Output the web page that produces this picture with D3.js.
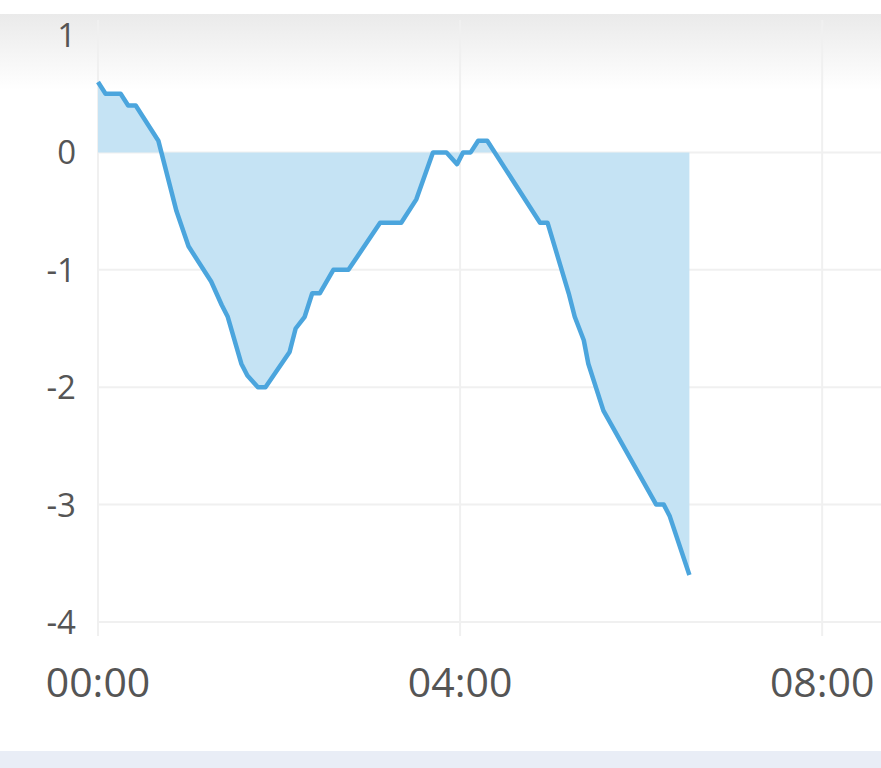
<!DOCTYPE html>
<html><head><meta charset="utf-8">
<script src="https://cdn.jsdelivr.net/npm/d3@7"></script>
<style>html,body{margin:0;padding:0;background:#fff;}svg{display:block;}</style>
</head><body>
<script>
// time in minutes after 00:00
const minutes = [0,5,15,20,25,30,35,40,44,48,52,60,75,82,86,95,99,106,111,127,131,137,142,147,156,166,187,201,211,222,231,238,242,247,252,258,293,298,305,312,316,322,325,335,370,375,379,392];
const values  = [0.6,0.5,0.5,0.4,0.4,0.3,0.2,0.1,-0.1,-0.3,-0.5,-0.8,-1.1,-1.3,-1.4,-1.8,-1.9,-2.0,-2.0,-1.7,-1.5,-1.4,-1.2,-1.2,-1.0,-1.0,-0.6,-0.6,-0.4,0.0,0.0,-0.1,0.0,0.0,0.1,0.1,-0.6,-0.6,-0.9,-1.2,-1.4,-1.6,-1.8,-2.2,-3.0,-3.0,-3.1,-3.6];
const yTicks = [1,0,-1,-2,-3,-4];
const xTicks = [0,240,480];
const xTickLabels = ["00:00","04:00","08:00"];

const W = 881, H = 768;
const svg = d3.select("body").append("svg").attr("width", W).attr("height", H);
const defs = svg.append("defs");
const g = defs.append("linearGradient").attr("id","topfade").attr("x1",0).attr("y1",0).attr("x2",0).attr("y2",1);
g.append("stop").attr("offset","0%").attr("stop-color","#eaeaea");
g.append("stop").attr("offset","100%").attr("stop-color","#ffffff");
svg.append("rect").attr("x",0).attr("y",14).attr("width",W).attr("height",76).attr("fill","url(#topfade)");
svg.append("rect").attr("x",0).attr("y",751).attr("width",W).attr("height",17).attr("fill","#e9edf6");

const x = d3.scaleLinear().domain([0, 519]).range([98, 881]);
const y = d3.scaleLinear().domain([-4, 1]).range([622, 35]);

const data = minutes.map((m,i)=>({m, v: values[i]}));

// grid
svg.append("g").selectAll("line").data(yTicks).join("line")
  .attr("x1", 98).attr("x2", W).attr("y1", d=>y(d)).attr("y2", d=>y(d))
  .attr("stroke","#f0f0f0").attr("stroke-width",2);
svg.append("g").selectAll("line").data(xTicks).join("line")
  .attr("x1", d=>x(d)).attr("x2", d=>x(d)).attr("y1", 20).attr("y2", 636)
  .attr("stroke","#f0f0f0").attr("stroke-width",2);

// area
svg.append("path").datum(data)
  .attr("d", d3.area().x(d=>x(d.m)).y0(y(0)).y1(d=>y(d.v)))
  .attr("fill","#c5e3f4");
svg.append("path").datum(data)
  .attr("d", d3.line().x(d=>x(d.m)).y(d=>y(d.v)))
  .attr("fill","none").attr("stroke","#4ba5dd").attr("stroke-width",4.5)
  .attr("stroke-linejoin","round");

// y labels
svg.append("g").selectAll("text").data(yTicks).join("text")
  .attr("x", 76).attr("y", d=>y(d)+12)
  .attr("text-anchor","end")
  .attr("font-family","'Open Sans', sans-serif").attr("font-size",33)
  .attr("fill","#555").text(d=>d);
// x labels
svg.append("g").selectAll("text").data(xTicks).join("text")
  .attr("x", d=>x(d)).attr("y", 697)
  .attr("text-anchor","middle")
  .attr("font-family","'Open Sans', sans-serif").attr("font-size",41)
  .attr("fill","#555").text((d,i)=>xTickLabels[i]);
</script>
</body></html>
